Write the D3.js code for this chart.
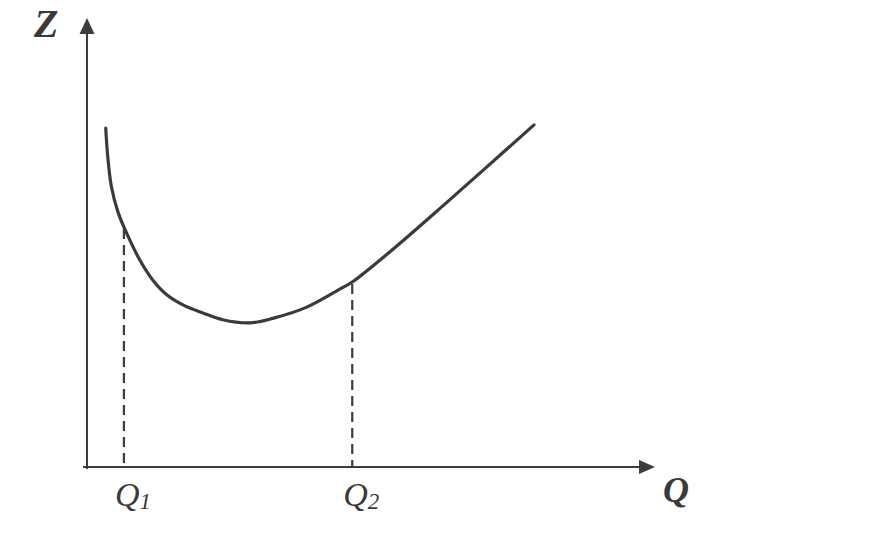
<!DOCTYPE html>
<html>
<head>
<meta charset="utf-8">
<script src="https://cdn.jsdelivr.net/npm/d3@7"></script>
<style>
  html, body { margin: 0; padding: 0; background: #ffffff; }
  svg { display: block; }
</style>
</head>
<body>
<svg id="chart" width="896" height="533"></svg>
<script>
// ---- data (arbitrary units) ----
const curveQ = [0.33, 0.36, 0.43, 0.55, 0.73, 0.93, 1.16, 1.41, 1.69, 2.04, 2.39, 2.87, 3.27, 3.87, 4.45, 4.67, 5.33, 6.34, 7.87];
const curveZ = [7.55, 6.99, 6.24, 5.66, 5.12, 4.61, 4.16, 3.83, 3.61, 3.43, 3.28, 3.21, 3.31, 3.56, 3.96, 4.12, 4.79, 5.90, 7.62];
const markQ = [0.65, 4.67];
const markNames = ["1", "2"];
const axisLabels = ["Z", "Q"];

const svg = d3.select("#chart");
const x = d3.scaleLinear().domain([0, 10]).range([87, 655]);
const y = d3.scaleLinear().domain([0, 10]).range([467, 18]);

const axisColor = "#3c3c3c";
const curveColor = "#3a3a3a";

// axes
svg.append("line")
  .attr("x1", x(0)).attr("x2", x(0))
  .attr("y1", y(0) + 2).attr("y2", y(10) + 14)
  .attr("stroke", axisColor).attr("stroke-width", 2);
svg.append("line")
  .attr("x1", x(0) - 4).attr("x2", x(10) - 14)
  .attr("y1", y(0)).attr("y2", y(0))
  .attr("stroke", axisColor).attr("stroke-width", 2);

// arrowheads
svg.append("path")
  .attr("d", `M${x(0)},${y(10)} L${x(0) - 7.5},${y(10) + 16} L${x(0) + 7.5},${y(10) + 16} Z`)
  .attr("fill", axisColor);
svg.append("path")
  .attr("d", `M${x(10)},${y(0)} L${x(10) - 16},${y(0) - 7} L${x(10) - 16},${y(0) + 7} Z`)
  .attr("fill", axisColor);

// curve
const pts = curveQ.map((q, i) => [q, curveZ[i]]);
const line = d3.line().x(d => x(d[0])).y(d => y(d[1])).curve(d3.curveCatmullRom.alpha(0.5));
const curvePath = svg.append("path")
  .datum(pts)
  .attr("d", line)
  .attr("fill", "none")
  .attr("stroke", curveColor)
  .attr("stroke-width", 3.2)
  .attr("stroke-linecap", "round");

// dashed verticals: find curve height at markQ by sampling the path
const pathNode = curvePath.node();
function curveYAt(px) {
  const len = pathNode.getTotalLength();
  let lo = 0, hi = len;
  for (let k = 0; k < 40; k++) {
    const mid = (lo + hi) / 2;
    if (pathNode.getPointAtLength(mid).x < px) lo = mid; else hi = mid;
  }
  return pathNode.getPointAtLength(lo).y;
}
markQ.forEach((q, i) => {
  svg.append("line")
    .attr("x1", x(q)).attr("x2", x(q))
    .attr("y1", curveYAt(x(q)) + 2).attr("y2", y(0))
    .attr("stroke", axisColor).attr("stroke-width", 2.2)
    .attr("stroke-dasharray", "10,6");
  const t = svg.append("text")
    .attr("x", x(q) - 9).attr("y", y(0) + 39)
    .attr("font-family", "'Liberation Serif', 'DejaVu Serif', serif")
    .attr("font-style", "italic")
    .attr("font-size", 34)
    .attr("fill", "#3a3a3a");
  t.append("tspan").text("Q");
  t.append("tspan").attr("font-size", 23).attr("dy", 3).text(markNames[i]);
});

// axis labels
svg.append("text")
  .attr("x", 34).attr("y", 37)
  .attr("font-family", "'Liberation Serif', 'DejaVu Serif', serif")
  .attr("font-style", "italic").attr("font-weight", "bold")
  .attr("font-size", 40)
  .attr("fill", "#3a3a3a")
  .text(axisLabels[0]);
svg.append("text")
  .attr("x", 663).attr("y", 502)
  .attr("font-family", "'Liberation Serif', 'DejaVu Serif', serif")
  .attr("font-style", "italic").attr("font-weight", "bold")
  .attr("font-size", 36)
  .attr("fill", "#3a3a3a")
  .text(axisLabels[1]);
</script>
</body>
</html>
